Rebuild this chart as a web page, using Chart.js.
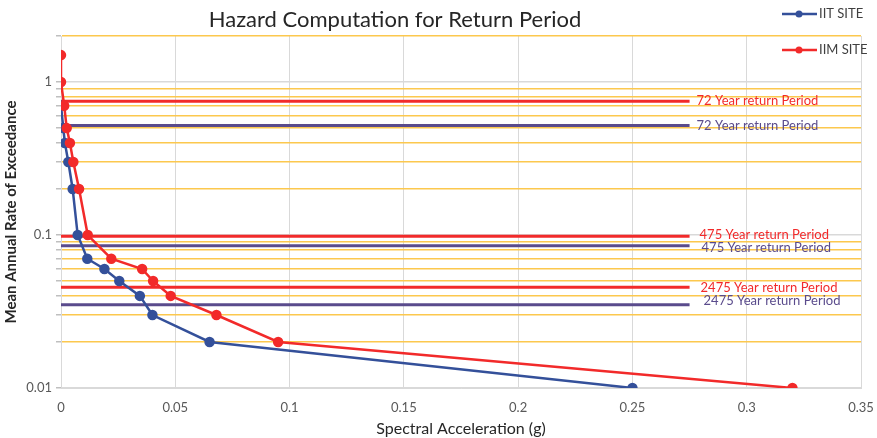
<!DOCTYPE html>
<html>
<head>
    <title>Hazard Computation for Return Period</title>
    <script src="https://cdn.jsdelivr.net/npm/chart.js@4/dist/chart.umd.min.js"></script>
    <style>
        body { margin: 0; background: #fff; }
    </style>
</head>
<body>
    <canvas id="myChart" width="877" height="438"></canvas>

    <script>
        // series values
        var iitSa   = [0, 0.001, 0.0017, 0.0032, 0.0051, 0.0073, 0.0115, 0.019, 0.0255, 0.0345, 0.040, 0.065, 0.25];
        var iitRate = [0.7, 0.5, 0.4, 0.3, 0.2, 0.1, 0.07, 0.06, 0.05, 0.04, 0.03, 0.02, 0.01];
        var iimSa   = [0, 0, 0.0014, 0.0025, 0.0039, 0.0054, 0.0079, 0.0117, 0.022, 0.0355, 0.0403, 0.048, 0.068, 0.095, 0.32];
        var iimRate = [1.5, 1, 0.7, 0.5, 0.4, 0.3, 0.2, 0.1, 0.07, 0.06, 0.05, 0.04, 0.03, 0.02, 0.01];

        // return period reference lines
        var returnYears = ['72', '475', '2475'];
        var iimReturnRate = [0.75, 0.098, 0.0455];
        var iitReturnRate = [0.52, 0.085, 0.035];
        var returnLineEnd = 0.275;

        // axis ticks
        var yTickValues = [0.01, 0.02, 0.03, 0.04, 0.05, 0.06, 0.07, 0.08, 0.09,
                           0.1, 0.2, 0.3, 0.4, 0.5, 0.6, 0.7, 0.8, 0.9, 1, 2];
        var yLabelValues = [0.01, 0.1, 1];

        var RED = '#f22a2a';
        var BLUE = '#34509a';
        var PURPLE = '#5a4b8c';

        function pts(xs, ys) {
            return xs.map(function (x, i) { return { x: x, y: ys[i] }; });
        }

        var datasets = [
            { label: 'IIM SITE', data: pts(iimSa, iimRate), borderColor: RED, backgroundColor: RED,
              borderWidth: 2.5, pointRadius: 4, pointHoverRadius: 4 },
            { label: 'IIT SITE', data: pts(iitSa, iitRate), borderColor: BLUE, backgroundColor: BLUE,
              borderWidth: 2.5, pointRadius: 4, pointHoverRadius: 4 }
        ];
        returnYears.forEach(function (yr, i) {
            datasets.push({ label: yr + ' IIM', data: pts([0, returnLineEnd], [iimReturnRate[i], iimReturnRate[i]]),
                borderColor: RED, borderWidth: 3, pointRadius: 0 });
            datasets.push({ label: yr + ' IIT', data: pts([0, returnLineEnd], [iitReturnRate[i], iitReturnRate[i]]),
                borderColor: PURPLE, borderWidth: 3, pointRadius: 0 });
        });

        var overlay = {
            id: 'overlay',
            afterDraw: function (chart) {
                var c = chart.ctx;
                var xs = chart.scales.x, ys = chart.scales.y;
                c.save();
                // title
                c.fillStyle = '#262626';
                c.font = '22px Lato';
                c.textAlign = 'center';
                c.textBaseline = 'middle';
                c.fillText('Hazard Computation for Return Period', 395, 20);

                // return period labels
                c.font = '13px Lato';
                c.textAlign = 'left';
                var xl = xs.getPixelForValue(returnLineEnd) + 7;
                var dyIim = [0, -2, 0], dyIit = [0, 2, -4];
                var dxIim = [0, 3, 4], dxIit = [0, 5, 7];
                returnYears.forEach(function (yr, i) {
                    c.fillStyle = RED;
                    c.fillText(yr + ' Year return Period', xl + dxIim[i], ys.getPixelForValue(iimReturnRate[i]) + dyIim[i]);
                    c.fillStyle = PURPLE;
                    c.fillText(yr + ' Year return Period', xl + dxIit[i], ys.getPixelForValue(iitReturnRate[i]) + dyIit[i]);
                });

                // legend
                var items = [['IIT SITE', BLUE, 14], ['IIM SITE', RED, 50]];
                items.forEach(function (it) {
                    c.strokeStyle = it[1];
                    c.fillStyle = it[1];
                    c.lineWidth = 2.5;
                    c.beginPath();
                    c.moveTo(782, it[2]);
                    c.lineTo(817, it[2]);
                    c.stroke();
                    c.beginPath();
                    c.arc(799, it[2], 3.5, 0, Math.PI * 2);
                    c.fill();
                    c.fillStyle = '#404040';
                    c.font = '13px Lato';
                    c.fillText(it[0], 819, it[2]);
                });
                c.restore();
            }
        };

        var ctx = document.getElementById('myChart').getContext('2d');
        var chart = new Chart(ctx, {
            type: 'line',
            data: { datasets: datasets },
            plugins: [overlay],
            options: {
                responsive: false,
                animation: false,
                layout: { padding: { top: 36, right: 16, left: 0, bottom: 0 } },
                plugins: {
                    legend: { display: false },
                    title: { display: false },
                    tooltip: { enabled: false }
                },
                scales: {
                    x: {
                        type: 'linear',
                        min: 0,
                        max: 0.35,
                        afterFit: function (s) {
                            s.height = 50;
                            s.paddingLeft = 0;
                            s.paddingRight = 0;
                        },
                        ticks: {
                            stepSize: 0.05,
                            padding: 12,
                            color: '#595959',
                            font: { family: 'Lato', size: 13 },
                            maxRotation: 0,
                            callback: function (v) { return String(+v.toFixed(2)); }
                        },
                        grid: { color: '#d9d9d9', drawTicks: false },
                        border: { color: '#d9d9d9' },
                        title: {
                            display: true,
                            text: 'Spectral Acceleration (g)',
                            color: '#262626',
                            font: { family: 'Lato', size: 16 },
                            padding: { top: 0, bottom: 0 }
                        }
                    },
                    y: {
                        type: 'logarithmic',
                        min: 0.01,
                        max: 2,
                        afterFit: function (s) { s.width = 61; },
                        afterBuildTicks: function (s) {
                            s.ticks = yTickValues.map(function (v) { return { value: v }; });
                        },
                        ticks: {
                            autoSkip: false,
                            padding: 4,
                            color: '#595959',
                            font: { family: 'Lato', size: 13 },
                            callback: function (v) {
                                return yLabelValues.indexOf(v) >= 0 ? String(v) : '';
                            }
                        },
                        grid: {
                            tickLength: 5,
                            tickColor: '#bfbfbf',
                            lineWidth: 1.5,
                            color: function (c) {
                                if (!c.tick) return '#d9d9d9';
                                return yLabelValues.indexOf(c.tick.value) >= 0 ? '#d9d9d9' : '#fcc84e';
                            }
                        },
                        border: { color: '#d9d9d9' },
                        title: {
                            display: true,
                            text: 'Mean Annual Rate of Exceedance',
                            color: '#262626',
                            font: { family: 'Lato', size: 15, weight: 'bold' },
                            padding: { top: 2, bottom: 0 }
                        }
                    }
                }
            }
        });
    </script>
</body>
</html>
